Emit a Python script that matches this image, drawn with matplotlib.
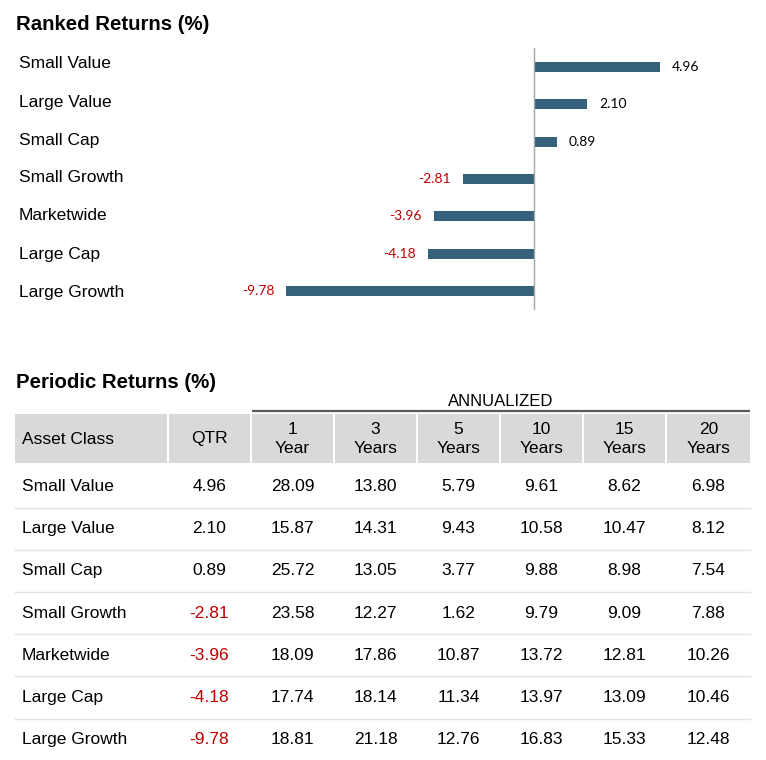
import matplotlib
matplotlib.use("Agg")
import matplotlib.pyplot as plt
from matplotlib.patches import Rectangle

plt.rcParams["font.family"] = ["Liberation Sans", "DejaVu Sans"]

categories = ["Small Value", "Large Value", "Small Cap", "Small Growth",
              "Marketwide", "Large Cap", "Large Growth"]
qtr = [4.96, 2.10, 0.89, -2.81, -3.96, -4.18, -9.78]
yr1 = [28.09, 15.87, 25.72, 23.58, 18.09, 17.74, 18.81]
yr3 = [13.80, 14.31, 13.05, 12.27, 17.86, 18.14, 21.18]
yr5 = [5.79, 9.43, 3.77, 1.62, 10.87, 11.34, 12.76]
yr10 = [9.61, 10.58, 9.88, 9.79, 13.72, 13.97, 16.83]
yr15 = [8.62, 10.47, 8.98, 9.09, 12.81, 13.09, 15.33]
yr20 = [6.98, 8.12, 7.54, 7.88, 10.26, 10.46, 12.48]
col_titles = ["QTR", "1\nYear", "3\nYears", "5\nYears", "10\nYears",
              "15\nYears", "20\nYears"]

BAR = "#35617b"
RED = "#c00000"
W, H = 766, 760

fig = plt.figure(figsize=(W / 100, H / 100), dpi=100)

# full-figure axes in pixel coords for the table
tax = fig.add_axes([0, 0, 1, 1])
tax.set_xlim(0, W); tax.set_ylim(H, 0); tax.axis("off")

# ranked bars
ax = fig.add_axes([200 / W, 1 - 310 / H, 566 / W, 262 / H])
ypos = list(range(len(categories)))
ax.barh(ypos, qtr, height=0.27, color=BAR)
ax.axvline(0, color="#a6a6a6", lw=1)
ax.set_xlim(-13.17, 9.15)
ax.set_ylim(6.51, -0.51)
ax.axis("off")
for i, (name, v) in enumerate(zip(categories, qtr)):
    tax.text(19, 64 + 38.0 * i, name, ha="left", va="center", fontsize=12.5)
    ax.annotate(f"{v:.2f}", (v, i), xytext=(8.6 if v > 0 else -8.6, 0),
                textcoords="offset points", ha="left" if v > 0 else "right",
                va="center", fontsize=10, family=["Lato", "DejaVu Sans"],
                color="black" if v > 0 else RED)

fig.text(16 / W, 1 - 24 / H, "Ranked Returns (%)", fontsize=14.7,
         fontweight="bold", va="center")
fig.text(16 / W, 1 - 383 / H, "Periodic Returns (%)", fontsize=14.7,
         fontweight="bold", va="center")

# table header
edges = [(15, 167), (169, 250), (252, 333), (335, 416), (418, 499),
         (501, 582), (584, 665), (667, 750)]
for x0, x1 in edges:
    tax.add_patch(Rectangle((x0, 414), x1 - x0, 49, color="#d9d9d9", lw=0))
tax.text(22, 439, "Asset Class", ha="left", va="center", fontsize=12.5)
for (x0, x1), t in zip(edges[1:], col_titles):
    tax.text((x0 + x1) / 2, 439, t, ha="center", va="center", fontsize=12.5,
             linespacing=1.3)
tax.plot([252, 750], [411, 411], color="#595959", lw=1.6,
         solid_capstyle="butt")
tax.text(501, 402, "ANNUALIZED", ha="center", va="center", fontsize=12)

# table body
cols = [qtr, yr1, yr3, yr5, yr10, yr15, yr20]
row_h = 42.2
for i, name in enumerate(categories):
    yc = 486.5 + row_h * i
    tax.text(22, yc, name, ha="left", va="center", fontsize=12.5)
    for j, ((x0, x1), vals) in enumerate(zip(edges[1:], cols)):
        v = vals[i]
        color = RED if (j == 0 and v < 0) else "black"
        tax.text((x0 + x1) / 2, yc, f"{v:.2f}", ha="center", va="center",
                 fontsize=12.5, color=color)
    if i < len(categories) - 1:
        tax.plot([15, 750], [yc + 21, yc + 21], color="#e3e3e3", lw=1)

fig.savefig("out.png", dpi=100)
